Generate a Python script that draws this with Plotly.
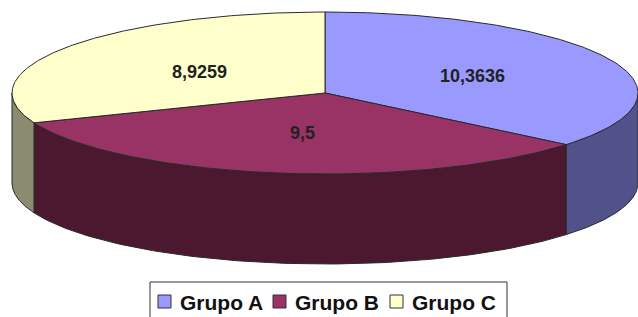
import numpy as np
import plotly.graph_objects as go

categories = ["Grupo A", "Grupo B", "Grupo C"]
values = [10.3636, 9.5, 8.9259]
labels = ["10,3636", "9,5", "8,9259"]
top_colors = ["#9999FF", "#993366", "#FFFFCC"]
side_colors = ["#52528A", "#4B1830", "#8B8B6F"]

W, H = 638, 317
cx, cy = 325, 93      # centre of top ellipse
rx, ry = 313, 81      # ellipse radii
depth = 90            # pie thickness
label_pos = [(472, 76), (302, 133), (199, 72)]
legend_x = [158, 273, 390]   # left edge of each legend swatch (px)

fig = go.Figure()

total = sum(values)
start = 90.0
angles = []
for v in values:
    sweep = v / total * 360.0
    angles.append((start, start - sweep))
    start -= sweep

def ell(t_deg, dy=0.0):
    t = np.radians(t_deg)
    return cx + rx * np.cos(t), cy - ry * np.sin(t) + dy

line_col = "#2a2a2a"

# side walls (visible front half: angles between -180 and 0)
for (a0, a1), sc, name in zip(angles, side_colors, categories):
    segs = []
    for off in (0, -360, 360):
        l2, h2 = max(min(a0, a1) + off, -180.0), min(max(a0, a1) + off, 0.0)
        if h2 > l2:
            segs.append((l2, h2))
    for l2, h2 in segs:
        ts = np.linspace(h2, l2, 120)
        xt, yt = ell(ts)
        xb, yb = ell(ts[::-1], depth)
        xs = np.concatenate([xt, xb, xt[:1]])
        ys = np.concatenate([yt, yb, yt[:1]])
        fig.add_trace(go.Scatter(x=xs, y=ys, fill="toself", fillcolor=sc,
                                 mode="lines", line=dict(color=line_col, width=1),
                                 hoverinfo="skip", showlegend=False))

# top faces
for (a0, a1), tc, name, v in zip(angles, top_colors, categories, values):
    ts = np.linspace(a0, a1, 200)
    xe, ye = ell(ts)
    xs = np.concatenate([[cx], xe, [cx]])
    ys = np.concatenate([[cy], ye, [cy]])
    fig.add_trace(go.Scatter(x=xs, y=ys, fill="toself", fillcolor=tc, name=name,
                             mode="lines", line=dict(color=line_col, width=1),
                             hoverinfo="name", showlegend=False))

for (x, y), t in zip(label_pos, labels):
    fig.add_annotation(x=x, y=y, text=t, showarrow=False,
                       font=dict(family="Liberation Sans, Arial", size=18,
                                 color="#222", weight="bold"))

# legend box (drawn by hand to match the original spacing)
shapes = [dict(type="rect", xref="x", yref="y", x0=150, x1=507, y0=282, y1=340,
               line=dict(color="#333", width=1), fillcolor="white", layer="above")]
for lx, name, tc in zip(legend_x, categories, top_colors):
    shapes.append(dict(type="rect", xref="x", yref="y", x0=lx, x1=lx + 13,
                       y0=295, y1=308, fillcolor=tc,
                       line=dict(color="#333", width=1), layer="above"))
    fig.add_annotation(x=lx + 20, y=302, text=name, showarrow=False,
                       xanchor="left", yanchor="middle",
                       font=dict(family="Liberation Sans, Arial", size=21,
                                 color="#111", weight="bold"))

fig.update_layout(
    width=W, height=H, margin=dict(l=0, r=0, t=0, b=0, autoexpand=False),
    paper_bgcolor="white", plot_bgcolor="white",
    xaxis=dict(range=[0, W], visible=False, fixedrange=True),
    yaxis=dict(range=[H, 0], visible=False, fixedrange=True),
    showlegend=False,
    shapes=shapes,
)

fig.write_html("out.html", config={"displayModeBar": False},
               post_script="document.body.style.margin='0';")
